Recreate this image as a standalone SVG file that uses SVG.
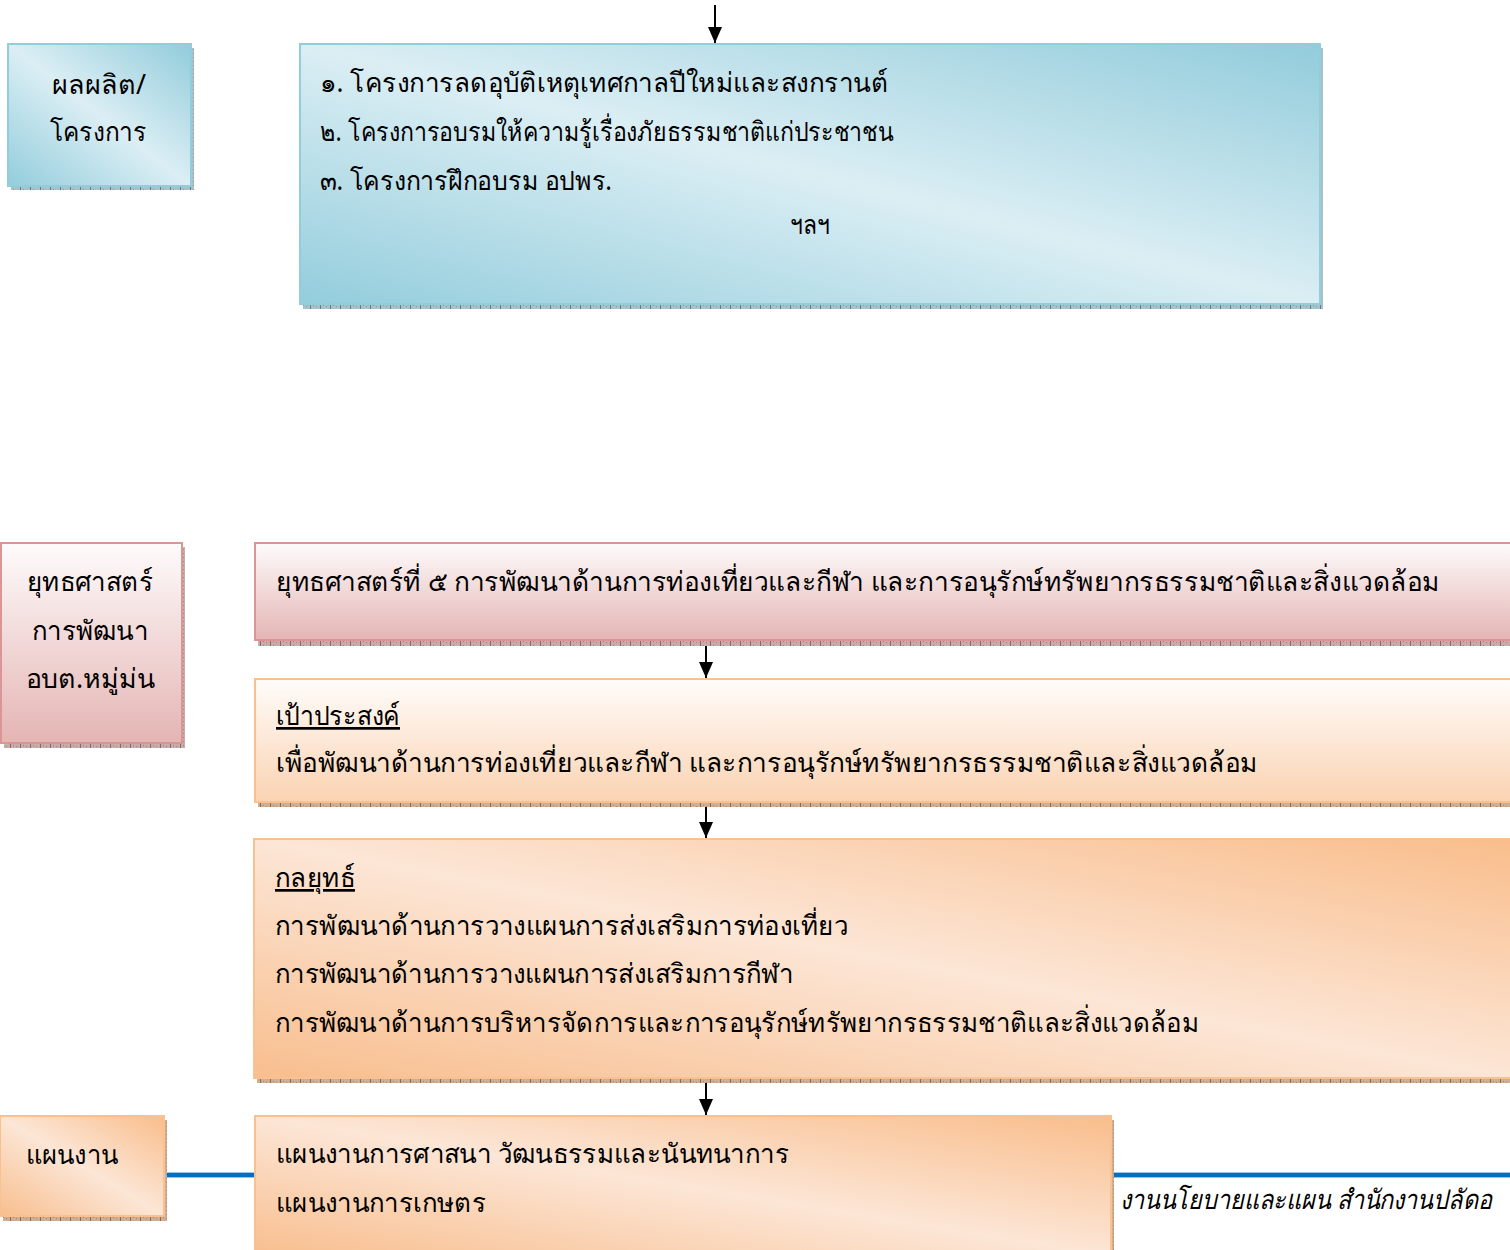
<svg xmlns="http://www.w3.org/2000/svg" width="1510" height="1250" viewBox="0 0 1510 1250">
<style>
.t{font-family:"Noto Sans","DejaVu Sans","Liberation Sans",sans-serif;font-size:27px;fill:#000}
.c{text-anchor:middle}
.u{text-decoration:underline}
.it{font-style:italic}
.bb{stroke:#92cddc;stroke-width:2}
.pb{stroke:#d99694;stroke-width:2}
.ob{stroke:#fac090;stroke-width:2}
.conn{stroke:#000;stroke-width:2;fill:none;marker-end:url(#ah)}
</style>
<defs>
<marker id="ah" viewBox="0 0 16 14" refX="16" refY="7" markerWidth="16" markerHeight="14" markerUnits="userSpaceOnUse" orient="auto">
<path d="M0,0 L16,7 L0,14 Z" fill="#000"/>
</marker>
<linearGradient id="gBlue" x1="0" y1="1" x2="1" y2="0">
<stop offset="0" stop-color="#93cddc"/>
<stop offset="0.5" stop-color="#dbeef4"/>
<stop offset="1" stop-color="#92ccdb"/>
</linearGradient>
<linearGradient id="gPink" x1="0" y1="0" x2="0" y2="1">
<stop offset="0" stop-color="#fefbfb"/>
<stop offset="1" stop-color="#e4b5b4"/>
</linearGradient>
<linearGradient id="gOrV" x1="0" y1="0" x2="0" y2="1">
<stop offset="0" stop-color="#fffcfa"/>
<stop offset="1" stop-color="#fad3b2"/>
</linearGradient>
<linearGradient id="gOr" x1="0" y1="1" x2="1" y2="0">
<stop offset="0" stop-color="#f8be8e"/>
<stop offset="0.5" stop-color="#fce6d6"/>
<stop offset="1" stop-color="#f9bd8b"/>
</linearGradient>
<pattern id="shBlue" width="10" height="4" patternUnits="userSpaceOnUse">
<rect width="10" height="4" fill="#a9c2c9"/>
<rect width="1" height="4" fill="#5e7d86"/>
<rect x="3" y="1" width="1" height="1" fill="#7d9aa2"/><rect x="6" y="2" width="1" height="1" fill="#7d9aa2"/>
</pattern>
<pattern id="shPink" width="10" height="4" patternUnits="userSpaceOnUse">
<rect width="10" height="4" fill="#c8acab"/>
<rect width="1" height="4" fill="#8a6a69"/>
<rect x="3" y="1" width="1" height="1" fill="#a08584"/><rect x="6" y="2" width="1" height="1" fill="#a08584"/>
</pattern>
<pattern id="shOr" width="10" height="4" patternUnits="userSpaceOnUse">
<rect width="10" height="4" fill="#cfae93"/>
<rect width="1" height="4" fill="#8f6848"/>
<rect x="3" y="1" width="1" height="1" fill="#a8876b"/><rect x="6" y="2" width="1" height="1" fill="#a8876b"/>
</pattern>
</defs>
<rect width="1510" height="1250" fill="#fff"/>

<g id="connectors">
<line class="conn" x1="715" y1="5" x2="715" y2="43"/>
<line class="conn" x1="706" y1="641" x2="706" y2="678"/>
<line class="conn" x1="706" y1="802" x2="706" y2="838"/>
<line class="conn" x1="706" y1="1078" x2="706" y2="1115"/>
<line x1="165" y1="1175" x2="254" y2="1175" stroke="#9dc3e6" stroke-width="6"/>
<line x1="165" y1="1175" x2="254" y2="1175" stroke="#0070c0" stroke-width="4"/>
<line x1="1112" y1="1175" x2="1510" y2="1175" stroke="#9dc3e6" stroke-width="6"/>
<line x1="1112" y1="1175" x2="1510" y2="1175" stroke="#0070c0" stroke-width="4"/>
</g>

<g id="node-output-label">
<rect x="11" y="48" width="183" height="142" fill="url(#shBlue)"/>
<rect x="8" y="44" width="183" height="142" fill="url(#gBlue)" class="bb"/>
<text class="t c" x="99" y="94" textLength="94" lengthAdjust="spacingAndGlyphs">ผลผลิต/</text>
<text class="t c" x="98" y="141" textLength="97" lengthAdjust="spacingAndGlyphs">โครงการ</text>
</g>

<g id="node-projects">
<rect x="303" y="48" width="1020" height="261" fill="url(#shBlue)"/>
<rect x="300" y="44" width="1020" height="260" fill="url(#gBlue)" class="bb"/>
<text class="t" x="320" y="92" textLength="568" lengthAdjust="spacingAndGlyphs">๑. โครงการลดอุบัติเหตุเทศกาลปีใหม่และสงกรานต์</text>
<text class="t" x="320" y="141" textLength="573" lengthAdjust="spacingAndGlyphs">๒. โครงการอบรมให้ความรู้เรื่องภัยธรรมชาติแก่ประชาชน</text>
<text class="t" x="320" y="190" textLength="292" lengthAdjust="spacingAndGlyphs">๓. โครงการฝึกอบรม อปพร.</text>
<text class="t c" x="810" y="234" textLength="40" lengthAdjust="spacingAndGlyphs">ฯลฯ</text>
</g>

<g id="node-strategy-label">
<rect x="4" y="547" width="181" height="201" fill="url(#shPink)"/>
<rect x="1" y="543" width="181" height="200" fill="url(#gPink)" class="pb"/>
<text class="t c" x="90" y="591" textLength="126" lengthAdjust="spacingAndGlyphs">ยุทธศาสตร์</text>
<text class="t c" x="90" y="640" textLength="116" lengthAdjust="spacingAndGlyphs">การพัฒนา</text>
<text class="t c" x="90" y="688" textLength="129" lengthAdjust="spacingAndGlyphs">อบต.หมู่ม่น</text>
</g>

<g id="node-strategy5">
<rect x="258" y="547" width="1260" height="99" fill="url(#shPink)"/>
<rect x="255" y="543" width="1260" height="97" fill="url(#gPink)" class="pb"/>
<text class="t" x="276" y="591" textLength="1164" lengthAdjust="spacingAndGlyphs">ยุทธศาสตร์ที่ ๕ การพัฒนาด้านการท่องเที่ยวและกีฬา และการอนุรักษ์ทรัพยากรธรรมชาติและสิ่งแวดล้อม</text>
</g>

<g id="node-goal">
<rect x="258" y="683" width="1260" height="124" fill="url(#shOr)"/>
<rect x="255" y="679" width="1260" height="123" fill="url(#gOrV)" class="ob"/>
<text class="t u" x="276" y="725" textLength="124" lengthAdjust="spacingAndGlyphs">เป้าประสงค์</text>
<text class="t" x="276" y="772" textLength="982" lengthAdjust="spacingAndGlyphs">เพื่อพัฒนาด้านการท่องเที่ยวและกีฬา และการอนุรักษ์ทรัพยากรธรรมชาติและสิ่งแวดล้อม</text>
</g>

<g id="node-tactics">
<rect x="257" y="843" width="1260" height="240" fill="url(#shOr)"/>
<rect x="254" y="839" width="1260" height="239" fill="url(#gOr)" class="ob"/>
<text class="t u" x="275" y="887" textLength="80" lengthAdjust="spacingAndGlyphs">กลยุทธ์</text>
<text class="t" x="275" y="935" textLength="573" lengthAdjust="spacingAndGlyphs">การพัฒนาด้านการวางแผนการส่งเสริมการท่องเที่ยว</text>
<text class="t" x="275" y="983" textLength="518" lengthAdjust="spacingAndGlyphs">การพัฒนาด้านการวางแผนการส่งเสริมการกีฬา</text>
<text class="t" x="275" y="1032" textLength="924" lengthAdjust="spacingAndGlyphs">การพัฒนาด้านการบริหารจัดการและการอนุรักษ์ทรัพยากรธรรมชาติและสิ่งแวดล้อม</text>
</g>

<g id="node-plan-label">
<rect x="3" y="1120" width="164" height="101" fill="url(#shOr)"/>
<rect x="0" y="1116" width="164" height="100" fill="url(#gOr)" class="ob"/>
<text class="t" x="26" y="1164" textLength="92" lengthAdjust="spacingAndGlyphs">แผนงาน</text>
</g>

<g id="node-plans">
<rect x="258" y="1120" width="856" height="140" fill="url(#shOr)"/>
<rect x="255" y="1116" width="856" height="140" fill="url(#gOr)" class="ob"/>
<text class="t" x="276" y="1163" textLength="513" lengthAdjust="spacingAndGlyphs">แผนงานการศาสนา วัฒนธรรมและนันทนาการ</text>
<text class="t" x="276" y="1212" textLength="210" lengthAdjust="spacingAndGlyphs">แผนงานการเกษตร</text>
</g>

<g id="footer">
<text class="t it" x="1120" y="1209" font-size="25" textLength="372" lengthAdjust="spacingAndGlyphs">งานนโยบายและแผน สำนักงานปลัดอ</text>
</g>
</svg>
